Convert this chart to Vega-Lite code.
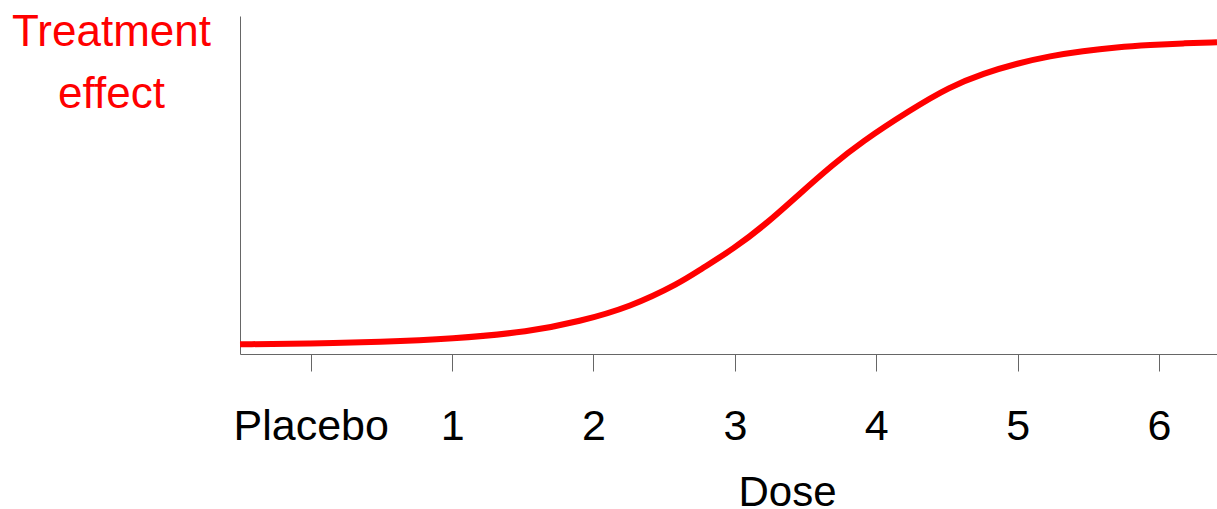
{
  "$schema": "https://vega.github.io/schema/vega-lite/v6.json",
  "width": 977,
  "height": 338,
  "autosize": "none",
  "padding": {"left": 240, "top": 16, "right": 0, "bottom": 155},
  "background": "white",
  "config": {
    "view": {"stroke": null},
    "font": "Liberation Sans"
  },
  "data": {
    "values": [
      {"dose": -0.5, "effect": 0.0287},
      {"dose": 0.0, "effect": 0.0311},
      {"dose": 0.49, "effect": 0.0355},
      {"dose": 1.0, "effect": 0.0444},
      {"dose": 1.55, "effect": 0.066},
      {"dose": 1.9, "effect": 0.0962},
      {"dose": 2.26, "effect": 0.139},
      {"dose": 2.61, "effect": 0.21},
      {"dose": 2.75, "effect": 0.2485},
      {"dose": 2.99, "effect": 0.3107},
      {"dose": 3.23, "effect": 0.3876},
      {"dose": 3.46, "effect": 0.4749},
      {"dose": 3.69, "effect": 0.5592},
      {"dose": 3.89, "effect": 0.6257},
      {"dose": 4.24, "effect": 0.7219},
      {"dose": 4.52, "effect": 0.7908},
      {"dose": 4.76, "effect": 0.8305},
      {"dose": 5.0, "effect": 0.8601},
      {"dose": 5.23, "effect": 0.8817},
      {"dose": 5.46, "effect": 0.8964},
      {"dose": 5.7, "effect": 0.9074},
      {"dose": 5.94, "effect": 0.9142},
      {"dose": 6.17, "effect": 0.9192},
      {"dose": 6.41, "effect": 0.9222}
    ]
  },
  "mark": {"type": "line", "color": "#ff0000", "strokeWidth": 6, "interpolate": "basis"},
  "encoding": {
    "x": {
      "field": "dose",
      "type": "quantitative",
      "scale": {"domain": [-0.5, 6.41], "nice": false, "zero": false},
      "axis": {
        "values": [0, 1, 2, 3, 4, 5, 6],
        "labelExpr": "datum.value == 0 ? 'Placebo' : datum.label",
        "grid": false,
        "tickSize": 17,
        "tickColor": "#666666",
        "domainColor": "#666666",
        "labelFontSize": 43,
        "labelColor": "black",
        "labelPadding": 34,
        "labelFont": "Liberation Sans",
        "title": "Dose",
        "titleFont": "Liberation Sans",
        "titleFontSize": 42,
        "titleFontWeight": "normal",
        "titleColor": "black",
        "titleX": 547,
        "titleY": 151,
        "titleAlign": "center",
        "titleAnchor": null,
        "titleBaseline": "alphabetic"
      }
    },
    "y": {
      "field": "effect",
      "type": "quantitative",
      "scale": {"domain": [0, 1], "nice": false, "zero": false},
      "axis": {
        "grid": false,
        "ticks": false,
        "labels": false,
        "domainColor": "#666666",
        "title": ["Treatment", "effect"],
        "titleFont": "Liberation Sans",
        "titleFontSize": 44,
        "titleFontWeight": "normal",
        "titleColor": "#ff0000",
        "titleAngle": 0,
        "titleAlign": "center",
        "titleBaseline": "alphabetic",
        "titleLineHeight": 62,
        "titleX": -129,
        "titleY": 29
      }
    }
  }
}
